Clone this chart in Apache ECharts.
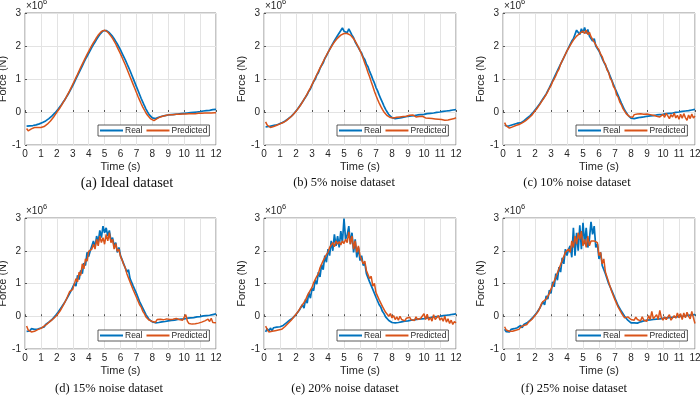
<!DOCTYPE html>
<html>
<head>
<meta charset="utf-8">
<script src="https://cdn.jsdelivr.net/npm/echarts@6/dist/echarts.min.js"></script>
<style>html,body{margin:0;padding:0;background:#fff;}#c{width:700px;height:396px;}</style>
</head>
<body>
<div id="c"></div>
<script>
// ---- data (force in units of 1e6 N) ----
const times = [0.1,0.2,0.3,0.4,0.5,0.6,0.7,0.8,0.9,1.0,1.1,1.2,1.3,1.4,1.5,1.6,1.7,1.8,1.9,2.0,
2.1,2.2,2.3,2.4,2.5,2.6,2.7,2.8,2.9,3.0,3.1,3.2,3.3,3.4,3.5,3.6,3.7,3.8,3.9,4.0,
4.1,4.2,4.3,4.4,4.5,4.6,4.7,4.8,4.9,5.0,5.1,5.2,5.3,5.4,5.5,5.6,5.7,5.8,5.9,6.0,
6.1,6.2,6.3,6.4,6.5,6.6,6.7,6.8,6.9,7.0,7.1,7.2,7.3,7.4,7.5,7.6,7.7,7.8,7.9,8.0,
8.1,8.2,8.3,8.4,8.5,8.6,8.7,8.8,8.9,9.0,9.1,9.2,9.3,9.4,9.5,9.6,9.7,9.8,9.9,10.0,
10.1,10.2,10.3,10.4,10.5,10.6,10.7,10.8,10.9,11.0,11.1,11.2,11.3,11.4,11.5,11.6,11.7,11.8,11.9,12.0];

const xTicks = [0,1,2,3,4,5,6,7,8,9,10,11,12];
const yTicks = [-1,0,1,2,3];
const captions = ['(a) Ideal dataset','(b) 5% noise dataset','(c) 10% noise dataset',
                  '(d) 15% noise dataset','(e) 20% noise dataset','(f) 25% noise dataset'];
const seriesNames = ['Real','Predicted'];

const realA = [-0.43,-0.43,-0.42,-0.42,-0.41,-0.40,-0.39,-0.37,-0.36,-0.34,
-0.32,-0.30,-0.27,-0.24,-0.20,-0.16,-0.12,-0.07,-0.02,0.04,
0.10,0.16,0.23,0.30,0.37,0.45,0.53,0.62,0.71,0.80,
0.90,1.00,1.10,1.20,1.30,1.40,1.50,1.60,1.69,1.78,
1.87,1.96,2.04,2.12,2.20,2.28,2.35,2.41,2.46,2.48,
2.47,2.44,2.40,2.35,2.29,2.22,2.14,2.06,1.97,1.88,
1.78,1.68,1.58,1.47,1.36,1.25,1.13,1.01,0.89,0.77,
0.65,0.53,0.41,0.30,0.19,0.09,0.00,-0.08,-0.14,-0.18,
-0.21,-0.20,-0.18,-0.16,-0.14,-0.13,-0.12,-0.11,-0.10,-0.09,
-0.09,-0.08,-0.08,-0.07,-0.07,-0.06,-0.06,-0.05,-0.05,-0.04,
-0.04,-0.03,-0.03,-0.02,-0.02,-0.01,-0.01,0.00,0.01,0.01,
0.02,0.03,0.03,0.04,0.05,0.05,0.06,0.07,0.07,0.08];

const predA = [-0.50,-0.57,-0.55,-0.51,-0.48,-0.47,-0.47,-0.47,-0.47,-0.47,
-0.46,-0.44,-0.41,-0.37,-0.32,-0.27,-0.21,-0.15,-0.08,-0.01,
0.06,0.13,0.21,0.29,0.37,0.46,0.55,0.64,0.74,0.84,
0.94,1.04,1.14,1.25,1.35,1.45,1.55,1.65,1.75,1.84,
1.93,2.02,2.10,2.18,2.26,2.33,2.39,2.44,2.47,2.48,
2.46,2.42,2.37,2.30,2.23,2.15,2.06,1.96,1.86,1.76,
1.65,1.54,1.43,1.31,1.19,1.07,0.95,0.83,0.71,0.59,
0.47,0.36,0.25,0.15,0.06,-0.03,-0.10,-0.16,-0.21,-0.25,
-0.26,-0.23,-0.20,-0.17,-0.15,-0.13,-0.12,-0.11,-0.10,-0.09,
-0.08,-0.08,-0.08,-0.07,-0.07,-0.07,-0.07,-0.06,-0.06,-0.06,
-0.06,-0.06,-0.05,-0.05,-0.05,-0.05,-0.05,-0.04,-0.04,-0.04,
-0.04,-0.04,-0.03,-0.03,-0.03,-0.03,-0.03,-0.02,-0.02,-0.02];

const realB = [-0.45,-0.44,-0.44,-0.43,-0.42,-0.41,-0.40,-0.38,-0.37,-0.35,
-0.33,-0.31,-0.28,-0.25,-0.21,-0.17,-0.13,-0.08,-0.03,0.03,
0.09,0.16,0.22,0.30,0.38,0.44,0.53,0.63,0.70,0.81,
0.92,0.99,1.12,1.19,1.32,1.41,1.49,1.62,1.70,1.80,
1.86,1.99,2.03,2.16,2.18,2.32,2.36,2.47,2.55,2.45,
2.42,2.40,2.52,2.47,2.33,2.25,2.12,2.08,1.95,1.86,
1.79,1.66,1.59,1.45,1.37,1.23,1.12,0.99,0.88,0.74,
0.64,0.51,0.40,0.29,0.18,0.08,0.00,-0.08,-0.13,-0.17,
-0.19,-0.20,-0.20,-0.19,-0.18,-0.17,-0.16,-0.15,-0.14,-0.13,
-0.13,-0.12,-0.11,-0.11,-0.10,-0.09,-0.09,-0.08,-0.07,-0.07,
-0.06,-0.05,-0.05,-0.04,-0.03,-0.03,-0.02,-0.01,-0.01,0.00,
0.01,0.02,0.02,0.03,0.04,0.04,0.05,0.06,0.06,0.07];

const predB = [-0.30,-0.40,-0.45,-0.47,-0.46,-0.44,-0.42,-0.40,-0.38,-0.36,
-0.34,-0.32,-0.29,-0.26,-0.22,-0.18,-0.14,-0.09,-0.04,0.02,
0.08,0.15,0.22,0.30,0.38,0.46,0.55,0.64,0.73,0.83,
0.93,1.03,1.13,1.23,1.33,1.43,1.53,1.62,1.72,1.81,
1.89,1.97,2.05,2.12,2.18,2.24,2.29,2.33,2.36,2.38,
2.36,2.38,2.35,2.33,2.28,2.22,2.15,2.06,1.97,1.86,
1.75,1.62,1.48,1.35,1.20,1.07,0.92,0.78,0.63,0.50,
0.38,0.27,0.17,0.08,0.00,-0.06,-0.11,-0.14,-0.17,-0.18,
-0.18,-0.17,-0.16,-0.16,-0.15,-0.15,-0.14,-0.14,-0.13,-0.13,
-0.10,-0.12,-0.09,-0.13,-0.15,-0.12,-0.14,-0.17,-0.13,-0.15,
-0.18,-0.14,-0.19,-0.16,-0.20,-0.17,-0.21,-0.18,-0.22,-0.19,
-0.23,-0.20,-0.25,-0.21,-0.24,-0.19,-0.22,-0.18,-0.20,-0.17];

const realC = [-0.40,-0.45,-0.43,-0.44,-0.40,-0.41,-0.37,-0.38,-0.34,-0.35,
-0.33,-0.34,-0.27,-0.25,-0.19,-0.18,-0.11,-0.09,0.00,0.03,
0.12,0.15,0.25,0.29,0.40,0.44,0.55,0.60,0.74,0.79,
0.94,0.97,1.15,1.14,1.35,1.38,1.55,1.56,1.75,1.76,
1.95,1.90,2.15,2.22,2.18,2.48,2.50,2.35,2.52,2.40,
2.56,2.38,2.50,2.30,2.35,2.15,2.22,2.00,2.05,1.85,
1.80,1.62,1.62,1.42,1.40,1.20,1.18,0.96,0.93,0.72,
0.68,0.50,0.44,0.27,0.21,0.06,0.01,-0.09,-0.14,-0.19,
-0.21,-0.20,-0.19,-0.18,-0.17,-0.16,-0.16,-0.15,-0.14,-0.13,
-0.13,-0.12,-0.11,-0.11,-0.10,-0.09,-0.09,-0.08,-0.07,-0.07,
-0.06,-0.05,-0.05,-0.04,-0.03,-0.03,-0.02,-0.01,-0.01,0.00,
0.01,0.02,0.02,0.03,0.04,0.04,0.05,0.06,0.07,0.08];

const predC = [-0.32,-0.42,-0.47,-0.49,-0.47,-0.45,-0.43,-0.41,-0.38,-0.38,
-0.36,-0.33,-0.30,-0.27,-0.22,-0.19,-0.13,-0.10,-0.03,0.02,
0.09,0.14,0.23,0.29,0.38,0.45,0.53,0.62,0.72,0.80,
0.92,1.00,1.10,1.22,1.30,1.45,1.50,1.65,1.70,1.85,
1.90,2.02,2.10,2.18,2.20,2.30,2.26,2.38,2.33,2.45,
2.38,2.48,2.35,2.42,2.28,2.25,2.12,2.08,1.95,1.88,
1.75,1.68,1.52,1.45,1.28,1.20,1.02,0.95,0.78,0.70,
0.52,0.45,0.30,0.22,0.10,0.04,-0.05,-0.08,-0.14,-0.12,
-0.16,-0.08,-0.14,-0.06,-0.12,-0.05,-0.11,-0.07,-0.13,-0.06,
-0.12,-0.08,-0.14,-0.10,-0.06,-0.13,-0.09,-0.15,-0.10,-0.07,
-0.16,-0.04,-0.12,-0.20,-0.08,-0.15,-0.03,-0.18,-0.10,-0.22,
-0.07,-0.19,-0.05,-0.17,-0.25,-0.09,-0.20,-0.06,-0.18,-0.12];

const realD = [-0.46,-0.40,-0.45,-0.38,-0.44,-0.40,-0.37,-0.39,-0.35,-0.36,
-0.30,-0.33,-0.25,-0.27,-0.18,-0.20,-0.10,-0.11,0.01,0.02,
0.14,0.12,0.28,0.26,0.43,0.40,0.60,0.55,0.78,0.72,
1.00,0.92,1.25,1.12,1.40,1.30,1.62,1.55,1.95,1.82,
2.00,1.95,2.30,2.10,2.45,2.25,2.62,2.40,2.75,2.55,
2.70,2.45,2.62,2.30,2.40,2.15,2.25,1.95,2.10,1.85,
1.85,1.60,1.65,1.35,1.42,1.15,1.20,0.92,0.95,0.70,
0.68,0.45,0.42,0.25,0.22,0.05,0.04,-0.10,-0.08,-0.17,
-0.16,-0.20,-0.18,-0.19,-0.18,-0.17,-0.16,-0.16,-0.15,-0.14,
-0.14,-0.13,-0.12,-0.12,-0.11,-0.10,-0.10,-0.09,-0.08,-0.08,
-0.07,-0.06,-0.06,-0.05,-0.04,-0.04,-0.03,-0.02,-0.02,-0.01,
0.00,0.01,0.01,0.02,0.03,0.03,0.04,0.05,0.06,0.07];

const predD = [-0.30,-0.42,-0.45,-0.48,-0.44,-0.46,-0.40,-0.41,-0.38,-0.37,
-0.34,-0.30,-0.28,-0.23,-0.21,-0.15,-0.13,-0.07,-0.04,0.03,
0.08,0.16,0.22,0.33,0.38,0.52,0.56,0.75,0.70,0.82,
0.88,1.15,1.05,1.35,1.25,1.60,1.45,1.75,1.68,1.98,
1.95,2.05,2.20,2.05,2.35,2.15,2.45,2.25,2.40,2.20,
2.50,2.30,2.55,2.25,2.35,2.05,2.22,1.98,2.05,1.82,
1.72,1.58,1.48,1.30,1.25,1.05,1.00,0.80,0.78,0.58,
0.52,0.35,0.28,0.15,0.08,-0.02,-0.05,-0.12,-0.10,-0.16,
-0.12,-0.18,-0.10,-0.15,-0.09,-0.14,-0.11,-0.16,-0.08,-0.13,
-0.10,-0.15,-0.09,-0.12,-0.07,-0.13,-0.10,-0.06,-0.12,-0.08,
0.05,-0.15,-0.22,-0.26,-0.24,-0.27,-0.23,-0.25,-0.21,-0.24,
-0.18,-0.22,-0.14,-0.20,-0.09,-0.16,-0.06,-0.19,-0.13,-0.20];

const realE = [-0.48,-0.38,-0.46,-0.36,-0.44,-0.35,-0.40,-0.33,-0.38,-0.32,
-0.34,-0.28,-0.30,-0.20,-0.24,-0.12,-0.16,-0.05,-0.08,0.05,
0.02,0.18,0.12,0.35,0.25,0.52,0.40,0.72,0.55,0.85,
0.78,1.10,0.98,1.35,1.20,1.58,1.42,1.85,1.65,2.05,
1.85,2.30,2.00,2.50,2.15,2.45,2.10,2.60,2.25,2.98,
2.35,2.48,2.75,2.20,2.55,1.95,2.35,1.80,2.10,1.70,
1.85,1.55,1.62,1.30,1.35,1.05,1.08,0.82,0.80,0.58,
0.52,0.35,0.28,0.15,0.08,-0.02,-0.08,-0.13,-0.16,-0.19,
-0.20,-0.20,-0.20,-0.19,-0.18,-0.17,-0.16,-0.15,-0.14,-0.14,
-0.13,-0.12,-0.11,-0.11,-0.10,-0.09,-0.09,-0.08,-0.07,-0.07,
-0.06,-0.05,-0.04,-0.04,-0.03,-0.02,-0.02,-0.01,0.00,0.00,
0.01,0.02,0.02,0.03,0.04,0.04,0.05,0.06,0.06,0.07];

const predE = [-0.30,-0.40,-0.48,-0.50,-0.46,-0.48,-0.44,-0.46,-0.42,-0.43,
-0.40,-0.38,-0.32,-0.30,-0.22,-0.20,-0.12,-0.08,0.00,0.02,
0.12,0.15,0.28,0.30,0.42,0.50,0.62,0.68,0.80,0.88,
1.02,1.08,1.22,1.30,1.48,1.50,1.70,1.75,1.88,1.95,
2.10,2.05,2.25,2.12,2.30,2.20,2.28,2.18,2.30,2.22,
2.35,2.25,2.58,2.20,2.45,2.05,2.30,1.95,2.15,1.85,
1.90,1.60,1.68,1.40,1.45,1.15,1.22,0.92,1.00,0.72,
0.75,0.50,0.52,0.30,0.32,0.12,0.18,0.00,0.08,-0.05,
0.02,-0.10,-0.02,-0.12,0.00,-0.10,-0.05,-0.14,-0.06,-0.12,
-0.03,-0.11,-0.05,-0.13,-0.02,-0.10,-0.14,-0.06,-0.12,0.08,
-0.10,0.06,-0.12,-0.04,-0.15,0.05,-0.10,-0.16,0.02,-0.12,
-0.05,-0.15,0.00,-0.18,-0.08,-0.22,-0.12,-0.25,-0.16,-0.20];

const realF = [-0.40,-0.47,-0.42,-0.48,-0.40,-0.45,-0.38,-0.42,-0.35,-0.38,
-0.28,-0.35,-0.25,-0.30,-0.20,-0.24,-0.12,-0.16,-0.02,-0.06,
0.10,0.08,0.25,0.20,0.45,0.35,0.62,0.52,0.80,0.70,
1.05,0.90,1.30,1.10,1.50,1.35,1.78,1.60,2.05,1.85,
2.05,2.15,1.80,2.70,1.85,2.55,2.00,2.78,2.05,2.85,
2.20,2.70,2.10,2.35,2.88,2.50,2.75,2.10,2.20,1.75,
1.95,1.55,1.58,1.30,1.32,1.00,1.05,0.78,0.82,0.55,
0.55,0.32,0.30,0.15,0.12,0.00,-0.05,-0.12,-0.15,-0.20,
-0.22,-0.20,-0.18,-0.21,-0.15,-0.17,-0.12,-0.14,-0.11,-0.12,
-0.10,-0.11,-0.09,-0.10,-0.08,-0.09,-0.07,-0.08,-0.06,-0.06,
-0.05,-0.05,-0.04,-0.04,-0.03,-0.03,-0.02,-0.02,-0.01,-0.01,
0.00,0.00,0.01,0.01,0.02,0.03,0.03,0.04,0.04,0.05];

const predF = [-0.32,-0.42,-0.45,-0.46,-0.44,-0.46,-0.42,-0.43,-0.38,-0.40,
-0.33,-0.30,-0.28,-0.22,-0.25,-0.18,-0.20,-0.10,-0.05,0.02,
0.05,0.15,0.25,0.38,0.45,0.50,0.52,0.55,0.70,0.75,
0.95,1.00,1.20,1.25,1.45,1.50,1.70,1.75,1.95,2.00,
2.05,1.95,2.30,2.10,2.45,2.20,2.55,2.35,2.60,2.15,
2.35,2.10,2.45,2.15,2.30,2.30,2.30,2.30,2.25,1.85,
1.95,1.60,1.75,1.35,1.40,1.05,1.05,0.75,0.78,0.50,
0.48,0.28,0.25,0.10,0.05,-0.05,-0.05,-0.02,-0.08,-0.10,
-0.05,-0.12,-0.03,-0.10,-0.08,-0.14,-0.02,-0.12,-0.06,-0.15,
0.02,-0.10,0.15,-0.08,-0.12,0.05,-0.10,0.18,-0.05,-0.12,
-0.02,-0.10,-0.05,0.05,-0.12,-0.08,0.02,-0.06,0.10,-0.05,
0.08,-0.10,0.10,-0.05,0.12,0.00,-0.08,0.15,-0.05,-0.22];

const realSets = [realA, realB, realC, realD, realE, realF];
const predSets = [predA, predB, predC, predD, predE, predF];

// ---- layout ----
const colLeft = [25, 264, 503];
const colWidth = [191, 192, 192];
const rowTop = [13, 218];
const rowHeight = [132, 131];
const legendLeft = [98, 337, 576];
const legendTop = [125, 330];
const captionX = [127, 344, 577, 109, 345, 574];
const captionY = [183, 389];
const captionSize = [14.5, 12.5, 12.5, 12.5, 12.5, 12.5];

const BLUE = '#0072BD', ORANGE = '#D95319';
const FONT = 'Liberation Sans, Arial, sans-serif';

const grids = [], xAxes = [], yAxes = [], series = [], legends = [], graphics = [];
for (let k = 0; k < 6; k++) {
  const r = Math.floor(k / 3), c = k % 3;
  grids.push({left: colLeft[c], top: rowTop[r], width: colWidth[c], height: rowHeight[r],
    show: true, borderColor: '#8c8c8c', borderWidth: 1, backgroundColor: '#fff',
    containLabel: false, outerBoundsMode: 'none'});
  xAxes.push({type: 'value', gridIndex: k, min: xTicks[0], max: xTicks[xTicks.length - 1], interval: 1,
    name: 'Time (s)', nameLocation: 'middle', nameGap: 16,
    nameTextStyle: {fontFamily: FONT, fontSize: 11, color: '#262626'},
    axisLine: {show: false}, axisTick: {show: true, inside: true, length: 2, lineStyle: {color: '#555'}},
    axisLabel: {fontFamily: FONT, fontSize: 10, color: '#262626', margin: 4},
    splitLine: {show: true, lineStyle: {color: '#e3e3e3', width: 1}}});
  yAxes.push({type: 'value', gridIndex: k, min: yTicks[0], max: yTicks[yTicks.length - 1], interval: 1,
    name: 'Force (N)', nameLocation: 'middle', nameGap: 8,
    nameTextStyle: {fontFamily: FONT, fontSize: 11, color: '#262626'},
    axisLine: {show: false}, axisTick: {show: true, inside: true, length: 2, lineStyle: {color: '#555'}},
    axisLabel: {fontFamily: FONT, fontSize: 10, color: '#262626', margin: 4},
    splitLine: {show: true, lineStyle: {color: '#e3e3e3', width: 1}}});
  series.push({type: 'line', name: seriesNames[0], xAxisIndex: k, yAxisIndex: k, symbol: 'none',
    lineStyle: {color: BLUE, width: 1.7}, itemStyle: {color: BLUE}, animation: false,
    data: times.map((t, i) => [t, realSets[k][i]])});
  series.push({type: 'line', name: seriesNames[1], xAxisIndex: k, yAxisIndex: k, symbol: 'none',
    lineStyle: {color: ORANGE, width: 1.5}, itemStyle: {color: ORANGE}, animation: false,
    data: times.map((t, i) => [t, predSets[k][i]])});
  legends.push({data: seriesNames, left: legendLeft[c], top: legendTop[r], orient: 'horizontal',
    icon: 'rect', itemWidth: 23, itemHeight: 2, itemGap: 4,
    padding: [1, 2, 1, 2], borderColor: '#333', borderWidth: 0.8, backgroundColor: '#fff',
    textStyle: {fontFamily: FONT, fontSize: 8.5, color: '#262626', padding: [0, 0, 0, -3]},
    selectedMode: false});
  graphics.push({type: 'text', left: colLeft[c] + 1, top: rowTop[r] - 12,
    style: {text: '\u00d710', fontFamily: FONT, fontSize: 10, fill: '#262626'}});
  graphics.push({type: 'text', left: colLeft[c] + 18, top: rowTop[r] - 15,
    style: {text: '6', fontFamily: FONT, fontSize: 7.5, fill: '#262626'}});
  graphics.push({type: 'text', x: captionX[k], y: captionY[r],
    style: {text: captions[k], fontFamily: 'Liberation Serif, Times New Roman, serif',
      fontSize: captionSize[k], fill: '#111', align: 'center', verticalAlign: 'middle'}});
}

const chart = echarts.init(document.getElementById('c'), null, {renderer: 'canvas'});
chart.setOption({
  animation: false,
  backgroundColor: '#fff',
  grid: grids, xAxis: xAxes, yAxis: yAxes, series: series, legend: legends,
  graphic: graphics
});
</script>
</body>
</html>
